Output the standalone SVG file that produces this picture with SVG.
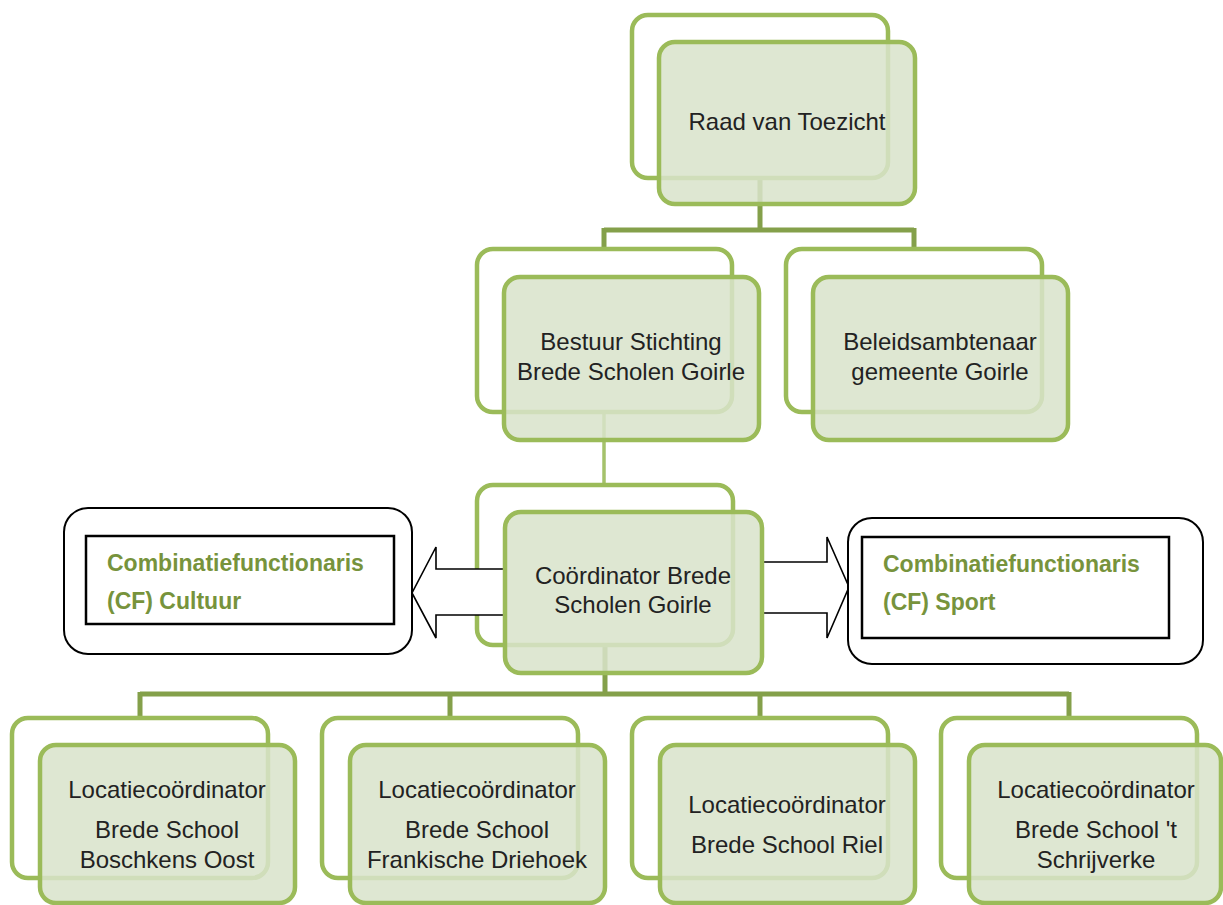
<svg xmlns="http://www.w3.org/2000/svg" width="1223" height="905" viewBox="0 0 1223 905">
<style>
.back{fill:#ffffff;stroke:#9bbb59;stroke-width:4.5}
.front{fill:#d9e3cb;fill-opacity:0.86;stroke:#9bbb59;stroke-width:4.5}
.conn{fill:none;stroke:#84a04a;stroke-width:5}
.conn2{fill:none;stroke:#a5c26b;stroke-width:3.5}
.lbl{font-family:"Liberation Sans",Arial,sans-serif;font-size:24px;fill:#222222;text-anchor:middle}
.cf{font-family:"Liberation Sans",Arial,sans-serif;font-size:23px;font-weight:bold;fill:#77933c}
.arrow{fill:#ffffff;stroke:#000000;stroke-width:1.6;stroke-linejoin:miter}
.outer{fill:#ffffff;stroke:#000000;stroke-width:2}
.inner{fill:#ffffff;stroke:#000000;stroke-width:2.5}
</style>
<rect width="1223" height="905" fill="#ffffff"/>
<g id="connectors">
<path class="conn" d="M760,178 V230 M604,230 H914 M604,228 V250 M914,228 V250"/>
<path class="conn2" d="M604,412 V486"/>
<path class="conn" d="M605,645 V694 M140,694 H1069 M140,692 V720 M450,692 V720 M760,692 V720 M1069,692 V720"/>
</g>
<g id="raad">
<rect class="back" x="632" y="15" width="256" height="163" rx="16"/>
<rect class="front" x="659" y="42" width="256" height="162" rx="16"/>
<text class="lbl" x="787" y="130">Raad van Toezicht</text>
</g>
<g id="bestuur">
<rect class="back" x="477" y="249" width="255" height="163" rx="16"/>
<rect class="front" x="504" y="277" width="255" height="163" rx="16"/>
<text class="lbl" x="631" y="350">Bestuur Stichting</text>
<text class="lbl" x="631" y="380">Brede Scholen Goirle</text>
</g>
<g id="beleid">
<rect class="back" x="786" y="249" width="256" height="163" rx="16"/>
<rect class="front" x="813" y="277" width="255" height="163" rx="16"/>
<text class="lbl" x="940" y="350">Beleidsambtenaar</text>
<text class="lbl" x="940" y="380">gemeente Goirle</text>
</g>
<g id="coordinator">
<rect class="back" x="477" y="485" width="256" height="160" rx="16"/>
<polygon class="arrow" points="506,569 436,569 436,547 412,593 436,638 436,615 506,615"/>
<polygon class="arrow" points="762,562 827,562 827,537 849,587 827,638 827,613 762,613"/>
<rect class="front" x="505" y="512" width="257" height="161" rx="16"/>
<text class="lbl" x="633" y="584">Coördinator Brede</text>
<text class="lbl" x="633" y="613">Scholen Goirle</text>
</g>
<g id="cf-cultuur">
<rect class="outer" x="64" y="508" width="348" height="146" rx="24"/>
<rect class="inner" x="86" y="536" width="308" height="88"/>
<text class="cf" x="107" y="571">Combinatiefunctionaris</text>
<text class="cf" x="107" y="609">(CF) Cultuur</text>
</g>
<g id="cf-sport">
<rect class="outer" x="848" y="518" width="355" height="146" rx="24"/>
<rect class="inner" x="862" y="537" width="307" height="101"/>
<text class="cf" x="883" y="572">Combinatiefunctionaris</text>
<text class="cf" x="883" y="610">(CF) Sport</text>
</g>
<g id="loc-boschkens">
<rect class="back" x="12" y="718" width="256" height="160" rx="16"/>
<rect class="front" x="40" y="745" width="255" height="158" rx="16"/>
<text class="lbl" x="167" y="798">Locatiecoördinator</text>
<text class="lbl" x="167" y="838">Brede School</text>
<text class="lbl" x="167" y="868">Boschkens Oost</text>
</g>
<g id="loc-frankische">
<rect class="back" x="322" y="718" width="256" height="160" rx="16"/>
<rect class="front" x="350" y="745" width="255" height="158" rx="16"/>
<text class="lbl" x="477" y="798">Locatiecoördinator</text>
<text class="lbl" x="477" y="838">Brede School</text>
<text class="lbl" x="477" y="868">Frankische Driehoek</text>
</g>
<g id="loc-riel">
<rect class="back" x="632" y="718" width="256" height="160" rx="16"/>
<rect class="front" x="660" y="745" width="255" height="158" rx="16"/>
<text class="lbl" x="787" y="813">Locatiecoördinator</text>
<text class="lbl" x="787" y="853">Brede School Riel</text>
</g>
<g id="loc-schrijverke">
<rect class="back" x="941" y="718" width="256" height="160" rx="16"/>
<rect class="front" x="969" y="745" width="252" height="158" rx="16"/>
<text class="lbl" x="1096" y="798">Locatiecoördinator</text>
<text class="lbl" x="1096" y="838">Brede School 't</text>
<text class="lbl" x="1096" y="868">Schrijverke</text>
</g>
</svg>
